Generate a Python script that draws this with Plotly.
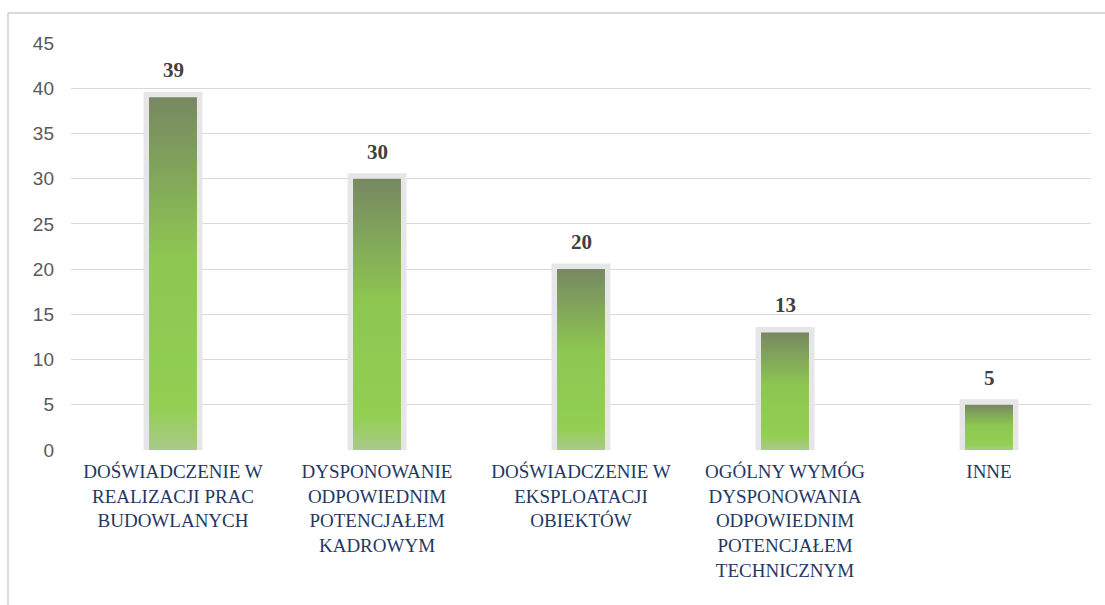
import plotly.graph_objects as go

categories = [
    "DOŚWIADCZENIE W<br>REALIZACJI PRAC<br>BUDOWLANYCH",
    "DYSPONOWANIE<br>ODPOWIEDNIM<br>POTENCJAŁEM<br>KADROWYM",
    "DOŚWIADCZENIE W<br>EKSPLOATACJI<br>OBIEKTÓW",
    "OGÓLNY WYMÓG<br>DYSPONOWANIA<br>ODPOWIEDNIM<br>POTENCJAŁEM<br>TECHNICZNYM",
    "INNE",
]
values = [39, 30, 20, 13, 5]
y_ticks = [0, 5, 10, 15, 20, 25, 30, 35, 40, 45]

W, H = 1105, 605
L, R, T, B = 71, 14, 43, 155
bar_w = 0.235
pos = list(range(len(categories)))

fig = go.Figure()

# glow / outline
fig.add_trace(go.Bar(
    x=pos, y=values, width=bar_w,
    marker=dict(color="rgba(0,0,0,0)", line=dict(color="#e6e6e6", width=11)),
    hoverinfo="skip", showlegend=False,
))

# gradient bars
for i, v in zip(pos, values):
    x0, x1 = i - bar_w / 2, i + bar_w / 2
    fig.add_trace(go.Scatter(
        x=[x0, x1, x1, x0, x0], y=[0, 0, v, v, 0],
        mode="lines", line=dict(width=0), fill="toself",
        fillgradient=dict(type="vertical",
                          colorscale=[[0, "#a9c98a"], [0.12, "#93cf53"],
                                      [0.55, "#8dc651"], [1, "#778862"]]),
        hoverinfo="skip", showlegend=False,
    ))

# value labels
for i, v in zip(pos, values):
    fig.add_annotation(x=i, y=v, text=str(v), showarrow=False, yshift=27,
                       font=dict(family="Liberation Serif", size=21, color="#404040",
                                 weight="bold"))

pw = W - L - R
ph = H - T - B
fx = (8 - L) / pw
fy = (H - B - 13) / ph
fig.add_shape(type="line", xref="paper", yref="paper", x0=fx, x1=fx, y0=-B / ph - 0.01, y1=fy,
              line=dict(color="#d9d9d9", width=2))
fig.add_shape(type="line", xref="paper", yref="paper", x0=fx, x1=(W - L) / pw + 0.01, y0=fy, y1=fy,
              line=dict(color="#d9d9d9", width=2))

fig.update_layout(
    width=W, height=H,
    margin=dict(l=L, r=R, t=T, b=B),
    paper_bgcolor="white", plot_bgcolor="white",
    showlegend=False,
    xaxis=dict(range=[-0.5, len(categories) - 0.5], tickmode="array", tickvals=pos,
               ticktext=categories, showgrid=False, zeroline=False, showline=False,
               tickfont=dict(family="Liberation Serif", size=19, color="#1f3864"),
               ticks="", tickangle=0, fixedrange=True, ticklabelstandoff=8),
    yaxis=dict(range=[0, 45], tickmode="array", tickvals=y_ticks,
               showgrid=True, gridcolor="#d9d9d9", gridwidth=1, zeroline=False,
               showline=False, ticks="", ticklen=0, ticklabelstandoff=16,
               tickfont=dict(family="Liberation Sans", size=19, color="#595959"),
               fixedrange=True),
)

fig.write_html("out.html", config={"displayModeBar": False},
               post_script="document.body.style.margin='0';document.body.style.padding='0';")
